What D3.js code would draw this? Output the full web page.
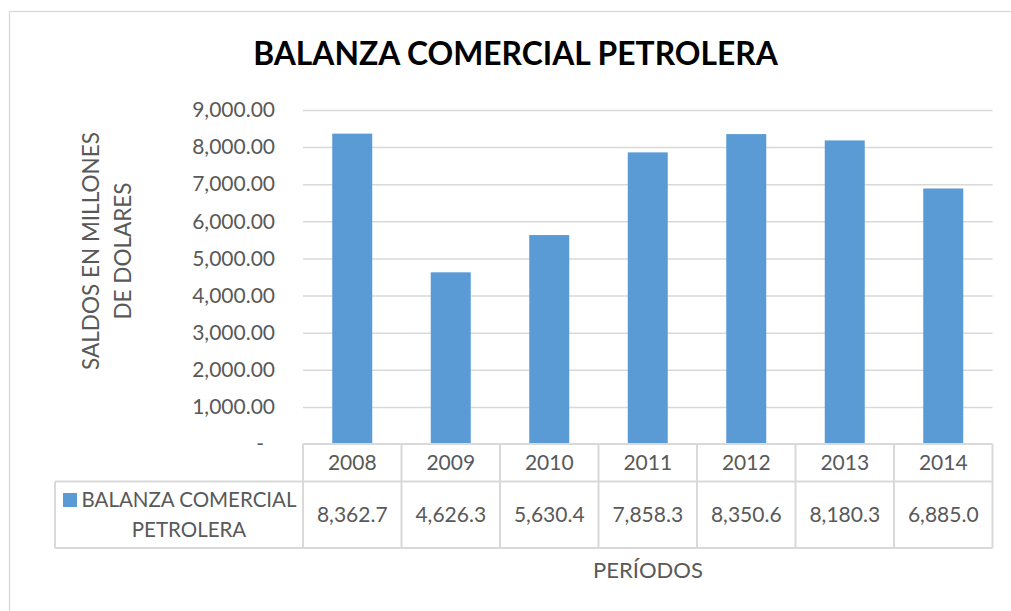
<!DOCTYPE html>
<html>
<head>
<meta charset="utf-8">
<script src="https://cdn.jsdelivr.net/npm/d3@7"></script>
<style>
  html, body { margin: 0; padding: 0; background: #fff; }
  svg { display: block; font-family: Lato, "Open Sans", sans-serif; }
</style>
</head>
<body>
<svg id="chart" width="1011" height="611"></svg>
<script>
const title = "BALANZA COMERCIAL PETROLERA";
const seriesName = "BALANZA COMERCIAL PETROLERA";
const seriesNameLines = ["BALANZA COMERCIAL", "PETROLERA"];
const years = ["2008", "2009", "2010", "2011", "2012", "2013", "2014"];
const values = [8362.7, 4626.3, 5630.4, 7858.3, 8350.6, 8180.3, 6885.0];
const yTicks = [0, 1000, 2000, 3000, 4000, 5000, 6000, 7000, 8000, 9000];
const yTitleLines = ["SALDOS EN MILLONES", "DE DOLARES"];
const xTitle = "PERÍODOS";

(function () {
const svg = d3.select("#chart");
const grid = "#d9d9d9", txt = "#595959", barColor = "#5b9bd5";

// outer chart border
svg.append("rect").attr("x", 9.5).attr("y", 11.5).attr("width", 1020).attr("height", 620)
  .attr("fill", "none").attr("stroke", grid).attr("stroke-width", 1.3);

const pLeft = 303, pRight = 992.5, pTop = 110, pBottom = 444;
const x = d3.scaleBand().domain(years).range([pLeft, pRight]).paddingInner(0).paddingOuter(0);
const y = d3.scaleLinear().domain([0, 9000]).range([pBottom, pTop]);

function fitWidth(sel, w) {
  const n = sel.node();
  const fs = parseFloat(sel.attr("font-size"));
  const cw = n.getComputedTextLength();
  if (cw > 0) sel.attr("font-size", fs * w / cw);
}

// title
const t = svg.append("text").attr("x", 515.5).attr("y", 65).attr("text-anchor", "middle")
  .attr("font-size", 28).attr("font-weight", "bold").attr("fill", "#000").text(title);
fitWidth(t, 525);

// gridlines + tick labels
const yAxis = d3.axisLeft(y).tickValues(yTicks)
  .tickFormat(d => d === 0 ? "-" : d3.format(",.2f")(d))
  .tickSize(-(pRight - pLeft)).tickPadding(28);
const ga = svg.append("g").attr("transform", `translate(${pLeft},0)`).call(yAxis);
ga.select(".domain").remove();
ga.selectAll(".tick line").attr("stroke", grid).attr("stroke-width", 1.5)
  .filter(d => d === 0).remove();
ga.selectAll(".tick text").attr("fill", txt).attr("font-size", 21)
  .attr("font-family", "Lato, sans-serif")
  .attr("dx", d => d === 0 ? -11 : 0);

// bars
const bw = 40;
svg.append("g").selectAll("rect").data(values).join("rect")
  .attr("x", (d, i) => x(years[i]) + x.bandwidth() / 2 - bw / 2)
  .attr("width", bw)
  .attr("y", d => y(d))
  .attr("height", d => y(0) - y(d))
  .attr("fill", barColor);

// data table
const rowTop = 444, rowMid = 481.5, rowBot = 548, legLeft = 55;
const tbl = svg.append("g").attr("stroke", grid).attr("stroke-width", 2).attr("fill", "none");
tbl.append("line").attr("x1", pLeft).attr("x2", pRight).attr("y1", rowTop).attr("y2", rowTop);
tbl.append("line").attr("x1", legLeft).attr("x2", pRight).attr("y1", rowMid).attr("y2", rowMid);
tbl.append("line").attr("x1", legLeft).attr("x2", pRight).attr("y1", rowBot).attr("y2", rowBot);
tbl.append("line").attr("x1", legLeft).attr("x2", legLeft).attr("y1", rowMid).attr("y2", rowBot);
const edges = years.map(d => x(d)).concat([pRight]);
tbl.selectAll("line.v").data(edges).join("line").attr("class", "v")
  .attr("x1", d => d).attr("x2", d => d).attr("y1", rowTop).attr("y2", rowBot);

svg.append("g").selectAll("text").data(years).join("text")
  .attr("x", d => x(d) + x.bandwidth() / 2).attr("y", 470)
  .attr("text-anchor", "middle").attr("font-size", 21).attr("fill", txt).text(d => d);
svg.append("g").selectAll("text").data(values).join("text")
  .attr("x", (d, i) => x(years[i]) + x.bandwidth() / 2).attr("y", 522)
  .attr("text-anchor", "middle").attr("font-size", 21).attr("fill", txt)
  .text(d => d3.format(",.1f")(d));

// legend key
svg.append("rect").attr("x", 63).attr("y", 493).attr("width", 14).attr("height", 14).attr("fill", barColor);
svg.append("g").selectAll("text").data(seriesNameLines).join("text")
  .attr("x", 189).attr("y", (d, i) => 507 + i * 29.5)
  .attr("text-anchor", "middle").attr("font-size", 20.5).attr("fill", txt).text(d => d);

// y axis title
const yt = svg.append("g").attr("transform", "translate(0,251) rotate(-90)");
const ytl = yt.selectAll("text").data(yTitleLines).join("text")
  .attr("x", 0).attr("y", (d, i) => 99 + i * 32)
  .attr("text-anchor", "middle").attr("font-size", 24).attr("fill", txt).text(d => d);
fitWidth(d3.select(ytl.nodes()[0]), 238);
d3.select(ytl.nodes()[1]).attr("font-size", d3.select(ytl.nodes()[0]).attr("font-size"));

// x axis title
const xt = svg.append("text").attr("x", 648).attr("y", 578).attr("text-anchor", "middle")
  .attr("font-size", 24).attr("fill", txt).text(xTitle);
fitWidth(xt, 110);
})();
</script>
</body>
</html>
